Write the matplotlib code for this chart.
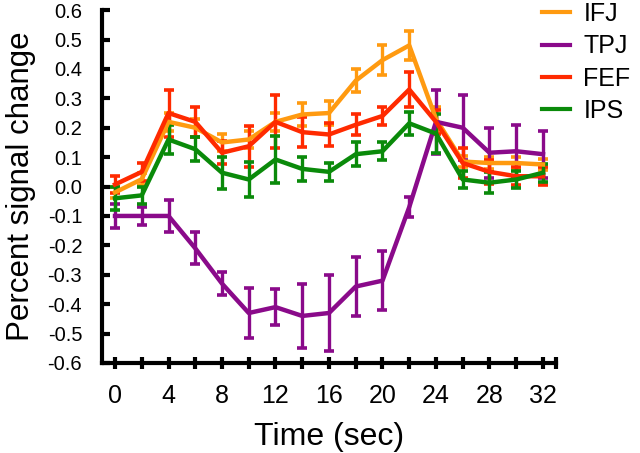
import matplotlib
matplotlib.use("Agg")
import matplotlib.pyplot as plt
from matplotlib.lines import Line2D

plt.rcParams['font.family'] = ['Liberation Sans', 'DejaVu Sans']

time = [0, 2, 4, 6, 8, 10, 12, 14, 16, 18, 20, 22, 24, 26, 28, 30, 32]

ifj = [-0.02, 0.025, 0.22, 0.20, 0.15, 0.16, 0.22, 0.245, 0.25, 0.36, 0.43, 0.48, 0.23, 0.085, 0.08, 0.08, 0.075]
ifj_err = [0.02, 0.02, 0.03, 0.03, 0.03, 0.03, 0.03, 0.04, 0.04, 0.04, 0.05, 0.05, 0.04, 0.02, 0.02, 0.02, 0.02]

tpj = [-0.10, -0.10, -0.10, -0.21, -0.33, -0.43, -0.41, -0.44, -0.43, -0.34, -0.32, -0.07, 0.22, 0.20, 0.115, 0.12, 0.11]
tpj_err = [0.04, 0.03, 0.055, 0.055, 0.04, 0.085, 0.06, 0.11, 0.13, 0.10, 0.10, 0.035, 0.11, 0.11, 0.085, 0.09, 0.08]

fef = [0.007, 0.05, 0.25, 0.22, 0.115, 0.137, 0.22, 0.185, 0.177, 0.21, 0.24, 0.33, 0.22, 0.08, 0.05, 0.035, 0.035]
fef_err = [0.03, 0.03, 0.08, 0.05, 0.04, 0.07, 0.09, 0.05, 0.04, 0.035, 0.03, 0.06, 0.04, 0.05, 0.04, 0.03, 0.03]

ips = [-0.04, -0.03, 0.16, 0.127, 0.047, 0.024, 0.092, 0.06, 0.05, 0.11, 0.12, 0.215, 0.18, 0.024, 0.013, 0.024, 0.047]
ips_err = [0.04, 0.03, 0.05, 0.04, 0.055, 0.06, 0.08, 0.04, 0.03, 0.04, 0.03, 0.04, 0.065, 0.03, 0.035, 0.03, 0.03]

labels = ['IFJ', 'TPJ', 'FEF', 'IPS']
colors = ['#FF9A10', '#8A0A8A', '#FF2A00', '#0A8A0A']

xticks = [0, 2, 4, 6, 8, 10, 12, 14, 16, 18, 20, 22, 24, 26, 28, 30, 32, 33]
xticklabels = ['0', '', '4', '', '8', '', '12', '', '16', '', '20', '', '24', '', '28', '', '32', '']
yticks = [0.6, 0.5, 0.4, 0.3, 0.2, 0.1, 0.0, -0.1, -0.2, -0.3, -0.4, -0.5, -0.6]
yticklabels = ['0.6', '0.5', '0.4', '0.3', '0.2', '0.1', '0.0', '-0.1', '-0.2', '-0.3', '-0.4', '-0.5', '-0.6']

fig = plt.figure(figsize=(6.4, 4.53), dpi=100)
ax = fig.add_axes([0.1588, 0.1987, 0.7105, 0.779])

series = [(ifj, ifj_err), (tpj, tpj_err), (fef, fef_err), (ips, ips_err)]
for (vals, errs), lab, col in zip(series, labels, colors):
    ax.errorbar(time, vals, yerr=errs, color=col, lw=3.2, elinewidth=2.4,
                capsize=3.5, capthick=2.6, label=lab)

ax.set_xlim(-1, 33)
ax.set_ylim(-0.6, 0.6)
ax.set_xticks(xticks)
ax.set_xticklabels(xticklabels)
ax.set_yticks(yticks)
ax.set_yticklabels(yticklabels)

for s in ['top', 'right']:
    ax.spines[s].set_visible(False)
for s in ['left', 'bottom']:
    ax.spines[s].set_linewidth(3)
ax.tick_params(axis='x', direction='inout', length=8, width=3, labelsize=18, pad=11)
ax.tick_params(axis='y', direction='in', length=6, width=3, labelsize=14.5, pad=14)

ax.set_xlabel('Time (sec)', fontsize=23, labelpad=10)
ax.set_ylabel('Percent signal change', fontsize=22.5, labelpad=8)

hl = [Line2D([0], [0], color=c, lw=3) for c in colors]
fig.legend(hl, labels, loc='upper left', bbox_to_anchor=(542 / 640, 1 - 2 / 453), frameon=False,
           fontsize=18, handlelength=1.1, handletextpad=0.55, labelspacing=0.33,
           borderpad=0, borderaxespad=0)

fig.savefig('out.png', dpi=100)
